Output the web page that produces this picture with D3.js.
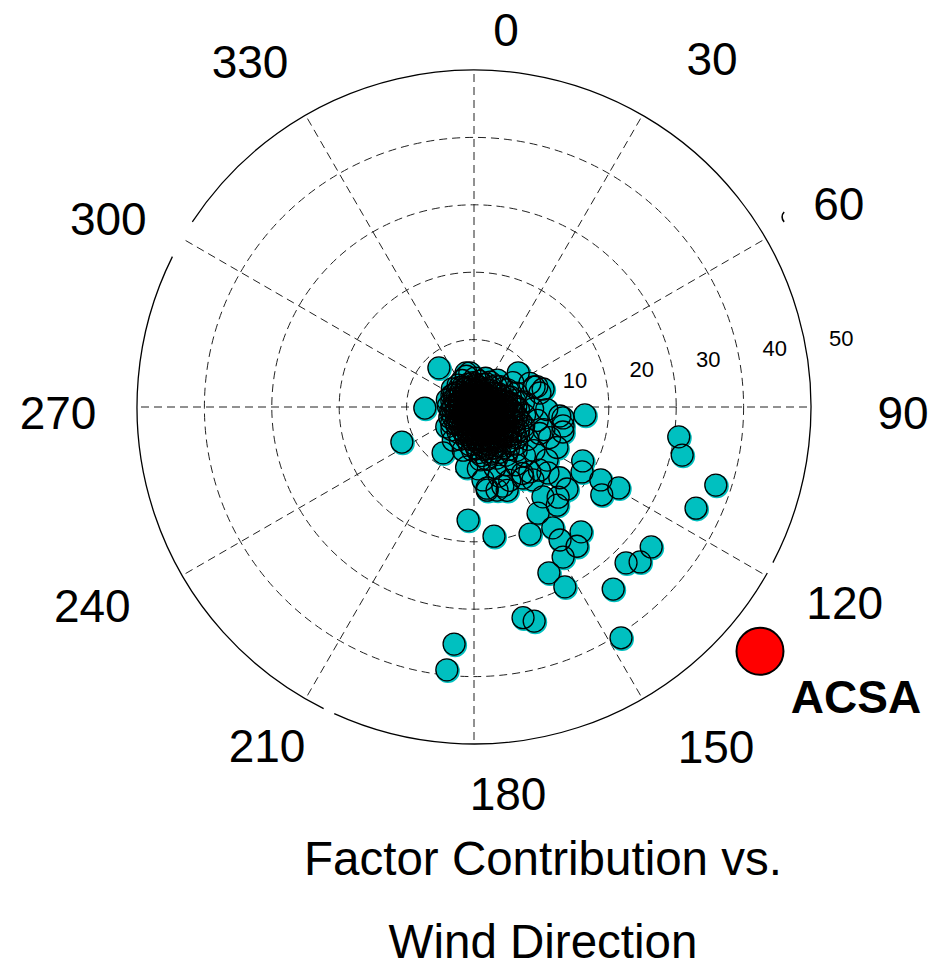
<!DOCTYPE html>
<html>
<head>
<meta charset="utf-8">
<script src="https://cdn.jsdelivr.net/npm/d3@7"></script>
<style>
  body { margin: 0; background: #fff; }
  text { font-family: Arial, "Liberation Sans", sans-serif; fill: #000; }
</style>
</head>
<body>
<svg id="chart" width="946" height="968"></svg>
<script>
// wind direction ticks (degrees clockwise from north) and contribution rings
const angleTicks = [0, 30, 60, 90, 120, 150, 180, 210, 240, 270, 300, 330];
const ringTicks = [10, 20, 30, 40, 50];

// scattered samples away from the main cluster: direction (deg) / contribution
const scatterDir = [94.1, 98.3, 103.0, 107.9, 114.5, 116.4, 121.0, 119.9, 124.5, 119.2,
  128.3, 133.0, 135.7, 142.6, 147.5, 166.9, 164.3, 153.2, 155.7, 149.3,
  143.5, 139.4, 147.1, 146.9, 156.2, 171.2, 183.0, 148.9, 139.7, 137.0,
  142.5, 131.4, 129.5, 131.7, 145.4, 139.3, 158.3, 164.5, 170.9, 268.8,
  244.1, 214.0, 184.8, 185.9, 318.1, 52.3, 71.6, 75.4, 346.8, 105.7, 97.0];
const scatterVal = [16.5, 30.7, 31.7, 37.7, 36.2, 18.0, 18.7, 21.7, 23.0, 24.6,
  33.5, 33.7, 32.3, 34.0, 40.6, 32.1, 33.0, 29.9, 27.0, 25.9,
  25.7, 24.4, 23.5, 21.4, 20.6, 19.4, 16.8, 18.4, 19.1, 18.3,
  16.8, 18.4, 16.5, 14.7, 12.8, 12.7, 13.3, 12.8, 12.2, 7.3,
  11.9, 8.2, 35.3, 39.2, 7.8, 8.3, 9.4, 10.6, 5.2, 13.7, 13.3];

// dense cluster near the origin: [direction, contributions at that direction]
const coreRows = [
  [2, [0.8, 2.1, 3.4, 4.3]], [12, [1.5, 2.8, 3.9]], [22, [0.6, 2.2, 3.6, 4.6]],
  [33, [1.9, 3.1, 4.4]], [41, [1.2, 2.6, 3.8, 5.3]], [52, [2.0, 3.3, 4.9]],
  [58, [6.8]], [63, [1.4, 2.9, 4.2, 5.6]], [67, [9.0]],
  [72, [2.4, 3.7, 5.1, 6.6, 9.8]], [78, [1.1, 3.0, 4.6, 10.0]], [84, [2.2, 3.9, 5.4, 7.4]],
  [89, [1.6, 3.2, 4.8, 6.2]], [92, [10.8, 8.7]], [96, [2.7, 4.1, 5.7, 12.8]],
  [102, [1.9, 3.5, 5.0, 6.5, 9.6, 13.5]], [108, [2.9, 4.4, 5.9, 7.3, 10.9]], [112, [10.5, 12.1]],
  [116, [1.3, 3.6, 5.2, 6.6, 8.1, 13.7]], [121, [2.4, 4.0, 5.5, 7.0, 9.3]],
  [126, [3.1, 4.7, 6.2, 7.8, 11.0, 13.4]], [131, [1.7, 3.4, 5.0, 6.5, 8.4]],
  [134, [13.5, 10.4]], [136, [2.6, 4.2, 5.8, 7.2, 9.0]], [141, [3.3, 4.9, 6.4, 8.1, 13.9]],
  [144, [12.2, 10.6]], [146, [1.9, 3.8, 5.4, 7.0, 8.6]], [151, [2.9, 4.5, 6.1, 7.7, 9.8]],
  [154, [12.1]], [156, [1.2, 3.5, 5.1, 6.7, 8.3]], [160, [12.5, 10.9]],
  [161, [2.5, 4.2, 5.8, 7.4, 9.5]], [166, [3.3, 4.9, 6.5, 8.0]], [171, [1.6, 4.0, 5.6, 7.3, 12.5]],
  [173, [10.9, 7.9]], [176, [2.8, 4.6, 6.2, 9.2]], [182, [1.0, 3.2, 4.9, 6.4]],
  [187, [2.3, 4.0, 5.6, 9.0]], [194, [1.5, 3.3, 4.8, 6.6]], [203, [2.5, 3.9, 5.2]],
  [212, [1.2, 3.0, 4.4, 5.8]], [224, [2.1, 3.6, 4.7]], [234, [1.4, 2.9, 4.1, 5.0]],
  [247, [2.2, 3.4, 3.9]], [260, [1.0, 2.6, 3.5]], [272, [1.9, 3.0, 3.8]],
  [285, [0.9, 2.3, 3.4, 4.1]], [298, [1.6, 2.8, 3.7]], [310, [2.2, 3.3, 4.2]],
  [324, [1.1, 2.5, 3.6, 4.0]], [336, [1.8, 3.0, 4.3]], [346, [0.7, 2.4, 3.5, 4.7]],
  [353, [1.3, 2.9, 5.1]],
  [7, [1.1, 2.5, 3.2]], [17, [0.9, 1.8, 3.0]], [28, [1.4, 2.6, 3.9]],
  [46, [0.9, 2.3, 3.5, 4.5]], [57, [1.6, 2.7, 3.8, 5.0]], [68, [0.8, 2.0, 3.4, 4.4]],
  [75, [1.8, 2.9, 4.0, 5.6]], [81, [1.3, 2.6, 3.5, 4.9, 6.1]], [87, [0.9, 2.4, 3.6, 4.4, 5.8]],
  [93, [1.2, 2.2, 3.3, 4.6, 6.6]], [99, [0.7, 1.7, 3.0, 4.7, 6.0, 7.6]],
  [105, [1.2, 2.4, 3.9, 5.4, 6.8]], [111, [0.8, 2.0, 3.1, 4.8, 6.2, 7.9]],
  [118, [1.8, 2.9, 4.4, 5.9, 7.5]], [123, [0.9, 2.0, 3.3, 4.6, 6.0, 7.3]],
  [128, [1.5, 2.6, 3.9, 5.4, 6.9]], [133, [0.6, 2.2, 3.0, 4.4, 5.7, 7.4]],
  [138, [1.2, 3.5, 4.8, 6.2]], [143, [0.8, 2.0, 4.1, 5.6, 7.5]], [148, [1.4, 2.7, 4.6, 6.0]],
  [153, [0.9, 2.2, 3.9, 5.5, 6.8]], [158, [1.7, 2.9, 4.4, 6.0, 7.2]],
  [163, [0.7, 1.9, 3.6, 5.2, 6.4]], [168, [1.3, 2.6, 4.3, 5.9]],
  [174, [0.9, 2.1, 3.6, 5.2, 6.8]], [179, [1.6, 2.5, 4.0, 5.5]], [185, [0.8, 1.9, 3.4, 4.8]],
  [191, [1.2, 2.6, 4.2]], [198, [0.9, 2.1, 3.5, 4.3]], [208, [1.8, 2.7, 3.8]],
  [218, [0.8, 2.4, 3.3]], [229, [1.7, 2.5, 3.6]], [241, [0.9, 1.9, 3.0]],
  [254, [1.4, 2.8]], [266, [0.6, 2.1, 3.2]], [279, [1.3, 2.7]], [292, [0.8, 2.0, 3.1]],
  [304, [1.2, 2.6, 3.5]], [317, [0.7, 1.8, 3.0]], [330, [1.4, 2.2, 3.4]],
  [341, [0.9, 1.9, 3.1]], [358, [0.5, 1.7, 2.6, 3.6]]
];

// receptor site marker
const siteName = "ACSA";
const siteDir = 130.5;
const siteDist = 55.8;

const titleLines = ["Factor Contribution vs.", "Wind Direction"];

// ---- layout ----
const width = 946, height = 968;
const cx = 474, cy = 407, R = 337;
const labelRadius = 390;
// hand placement of the direction labels, relative to their radial spot
const labelNudge = [[32, 12], [43, -11], [27, -9], [39, 5], [33, 0], [47, 2],
  [34, -4], [-12, 1], [-44, 3], [-26, 5], [-28, 6], [-29, -8]];
const rimGaps = [[117.5, 119.5], [204.5, 206.5], [296.5, 303.3]];

const svg = d3.select("#chart");
svg.append("rect").attr("width", width).attr("height", height).attr("fill", "#fff");

const rad = d3.scaleLinear().domain([0, 50]).range([0, R]);
const ang = d3.scaleLinear().domain([0, 360]).range([0, 2 * Math.PI]);
const pos = (dir, v) => d3.pointRadial(ang(dir), rad(v));

const g = svg.append("g").attr("transform", "translate(" + cx + "," + cy + ")");

// dashed rings
g.selectAll("circle.ring")
  .data(ringTicks.slice(0, -1))
  .enter().append("circle")
  .attr("class", "ring")
  .attr("r", d => rad(d))
  .attr("fill", "none")
  .attr("stroke", "#222")
  .attr("stroke-width", 1)
  .attr("stroke-dasharray", "8,5");

// dashed spokes
g.selectAll("line.spoke")
  .data(angleTicks)
  .enter().append("line")
  .attr("class", "spoke")
  .attr("x1", 0).attr("y1", 0)
  .attr("x2", d => pos(d, 50)[0])
  .attr("y2", d => pos(d, 50)[1])
  .attr("stroke", "#222")
  .attr("stroke-width", 1)
  .attr("stroke-dasharray", "8,5");

// outer rim (solid) with the small breaks seen in the original
const toCanvas = d => (d - 90) * Math.PI / 180;
const rimSegs = [];
for (let i = 0; i < rimGaps.length; i++) {
  const start = rimGaps[i][1];
  let end = rimGaps[(i + 1) % rimGaps.length][0];
  if (end < start) end += 360;
  rimSegs.push([start, end]);
}
rimSegs.forEach(function (s) {
  const p = d3.path();
  p.arc(0, 0, rad(50), toCanvas(s[0]), toCanvas(s[1]));
  g.append("path").attr("d", p.toString())
    .attr("fill", "none").attr("stroke", "#000").attr("stroke-width", 1.3);
});

// stray glyph fragment next to the 60 label
const frag = d3.path();
const fp = pos(58.9, 54.6);
frag.arc(fp[0], fp[1], 7, toCanvas(225), toCanvas(315));
g.append("path").attr("d", frag.toString())
  .attr("fill", "none").attr("stroke", "#000").attr("stroke-width", 1.6);

// all samples
const points = [];
scatterDir.forEach((d, i) => points.push({dir: d, val: scatterVal[i]}));
coreRows.forEach(row => row[1].forEach(v => points.push({dir: row[0], val: v})));

// fills first, then all outlines on top (this is what blackens the core)
g.append("g").selectAll("circle")
  .data(points)
  .enter().append("circle")
  .attr("cx", d => pos(d.dir, d.val)[0] + 1)
  .attr("cy", d => pos(d.dir, d.val)[1] + 1.2)
  .attr("r", 12)
  .attr("fill", "#00c0c0");

g.append("g").selectAll("circle")
  .data(points)
  .enter().append("circle")
  .attr("cx", d => pos(d.dir, d.val)[0])
  .attr("cy", d => pos(d.dir, d.val)[1])
  .attr("r", 11)
  .attr("fill", "none")
  .attr("stroke", "#000")
  .attr("stroke-width", 1.3);

// site marker
const sp = pos(siteDir, siteDist);
g.append("circle")
  .attr("cx", sp[0]).attr("cy", sp[1])
  .attr("r", 23.5)
  .attr("fill", "#ff0000")
  .attr("stroke", "#000")
  .attr("stroke-width", 2);

g.append("text")
  .attr("x", sp[0] + 96).attr("y", sp[1] + 62)
  .attr("text-anchor", "middle")
  .attr("font-size", 46)
  .attr("font-weight", "bold")
  .text(siteName);

// ring value labels
g.selectAll("text.rlab")
  .data(ringTicks)
  .enter().append("text")
  .attr("class", "rlab")
  .attr("x", d => pos(81, d)[0] + 34.5)
  .attr("y", d => pos(81, d)[1] - 16.5 + 8)
  .attr("text-anchor", "middle")
  .attr("font-size", 22)
  .text(d => d);

// direction labels
g.selectAll("text.alab")
  .data(angleTicks)
  .enter().append("text")
  .attr("class", "alab")
  .attr("x", (d, i) => d3.pointRadial(ang(d), labelRadius)[0] + labelNudge[i][0])
  .attr("y", (d, i) => d3.pointRadial(ang(d), labelRadius)[1] + labelNudge[i][1] + 16.5)
  .attr("text-anchor", "middle")
  .attr("font-size", 46)
  .text(d => d);

// title under the plot
svg.selectAll("text.title")
  .data(titleLines)
  .enter().append("text")
  .attr("class", "title")
  .attr("x", 543)
  .attr("y", (d, i) => 875 + i * 83)
  .attr("text-anchor", "middle")
  .attr("font-size", 47.5)
  .text(d => d);
</script>
</body>
</html>
